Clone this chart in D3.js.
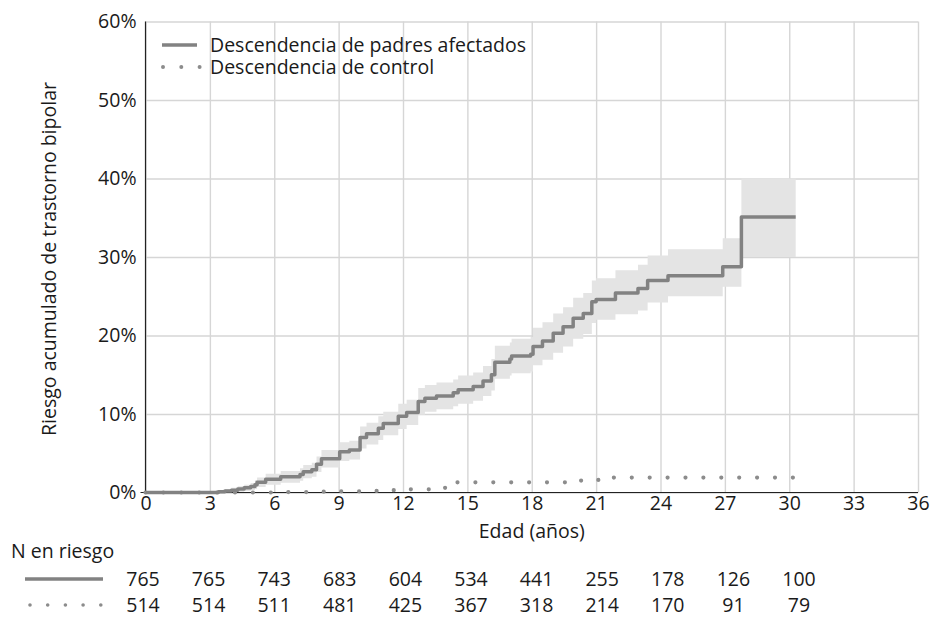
<!DOCTYPE html>
<html>
<head>
<meta charset="utf-8">
<script src="https://cdn.jsdelivr.net/npm/d3@7"></script>
<style>
  html, body { margin: 0; padding: 0; background: #fff; }
  svg { display: block; font-family: "Open Sans", "DejaVu Sans", sans-serif; }
  text { fill: #1a1a1a; }
</style>
</head>
<body>
<svg id="chart" width="933" height="617"></svg>
<script>
// Cumulative risk (%) for offspring of affected parents: step times (years) and estimates
const affectedAge = [0, 3.4, 3.7, 4.0, 4.3, 4.6, 4.9, 5.1, 5.2, 5.6, 6.3, 7.2, 7.35, 7.75, 7.97, 8.2, 9.05, 9.5,
  10.0, 10.3, 10.85, 11.08, 11.78, 12.17, 12.71, 13.02, 13.56, 14.34, 14.57, 15.27, 15.73, 16.12, 16.28,
  16.98, 17.06, 17.95, 18.06, 18.5, 19.0, 19.46, 19.93, 20.4, 20.8, 21.0, 21.9, 22.95, 23.4, 24.35, 26.9, 27.77, 30.3];
const affectedRisk = [0, 0.1, 0.2, 0.3, 0.45, 0.6, 0.75, 1.0, 1.3, 1.7, 2.0, 2.3, 2.65, 2.9, 3.6, 4.3, 5.2, 5.4,
  7.0, 7.5, 8.2, 8.8, 9.7, 10.2, 11.6, 12.0, 12.3, 12.7, 13.1, 13.5, 14.2, 15.0, 16.6,
  17.0, 17.4, 17.6, 18.6, 19.3, 20.3, 21.1, 22.2, 22.8, 24.3, 24.6, 25.4, 26.0, 27.0, 27.6, 28.75, 35.1, 35.1];
// 95% confidence band for the same steps
const affectedLow = [0, 0, 0, 0.05, 0.1, 0.2, 0.3, 0.45, 0.7, 1.0, 1.25, 1.5, 1.8, 2.0, 2.6, 3.2, 4.0, 4.2,
  5.6, 6.1, 6.7, 7.3, 8.1, 8.6, 9.9, 10.3, 10.6, 11.0, 11.3, 11.7, 12.3, 13.0, 14.5,
  14.9, 15.2, 15.4, 16.2, 16.9, 17.8, 18.6, 19.6, 20.2, 21.6, 22.0, 22.7, 23.2, 24.2, 25.0, 26.2, 30.0, 30.0];
const affectedHigh = [0, 0.3, 0.45, 0.6, 0.8, 1.0, 1.2, 1.55, 1.9, 2.4, 2.75, 3.1, 3.5, 3.8, 4.6, 5.4, 6.4, 6.6,
  8.4, 8.9, 9.7, 10.3, 11.3, 11.8, 13.3, 13.7, 14.0, 14.4, 14.9, 15.3, 16.1, 17.0, 18.7,
  19.1, 19.6, 19.8, 21.0, 21.7, 22.8, 23.6, 24.8, 25.4, 27.0, 27.3, 28.3, 29.0, 30.2, 31.0, 32.4, 40.0, 40.0];

// Cumulative risk (%) for control offspring
const controlAge  = [0, 6, 8, 9, 10, 11, 12, 13.7, 14.5, 20.3, 21.2, 30.3];
const controlRisk = [0, 0.05, 0.1, 0.15, 0.2, 0.3, 0.4, 0.6, 1.3, 1.6, 1.9, 1.9];

// Axis ticks
const xTicks = [0, 3, 6, 9, 12, 15, 18, 21, 24, 27, 30, 33, 36];
const yTicks = [0, 0.1, 0.2, 0.3, 0.4, 0.5, 0.6];

// Number at risk table
const riskTableAges = [0, 3, 6, 9, 12, 15, 18, 21, 24, 27, 30];
const atRiskAffected = [765, 765, 743, 683, 604, 534, 441, 255, 178, 126, 100];
const atRiskControl  = [514, 514, 511, 481, 425, 367, 318, 214, 170, 91, 79];

const seriesNames = ["Descendencia de padres afectados", "Descendencia de control"];

const svg = d3.select("#chart");
const FONT = 19.5;
const LINE = "#828282";
const DOT = "#8c8c8c";

const x = d3.scaleLinear().domain([0, 36]).range([145.5, 918]);
const y = d3.scaleLinear().domain([0, 0.6]).range([492.5, 21.5]);

const affected = affectedAge.map((t, i) => ({
  t, v: affectedRisk[i] / 100, lo: affectedLow[i] / 100, hi: affectedHigh[i] / 100
}));
const control = controlAge.map((t, i) => ({ t, v: controlRisk[i] / 100 }));

// Gridlines
svg.append("g")
  .attr("transform", `translate(0,${y(0)})`)
  .call(d3.axisBottom(x).tickValues(xTicks).tickSize(-(y(0) - y(0.6))).tickFormat(""))
  .call(g => g.select(".domain").remove())
  .call(g => g.selectAll("line").attr("stroke", "#d6d6d6").attr("stroke-width", 1.4));
svg.append("g")
  .attr("transform", `translate(${x(0)},0)`)
  .call(d3.axisLeft(y).tickValues(yTicks).tickSize(-(x(36) - x(0))).tickFormat(""))
  .call(g => g.select(".domain").remove())
  .call(g => g.selectAll("line").attr("stroke", "#d6d6d6").attr("stroke-width", 1.4));

// Confidence band
svg.append("path")
  .datum(affected)
  .attr("fill", "#e4e4e4")
  .attr("d", d3.area().x(d => x(d.t)).y0(d => y(d.lo)).y1(d => y(d.hi)).curve(d3.curveStepAfter));

// Axis lines
svg.append("line").attr("x1", x(0) - 5).attr("x2", x(36)).attr("y1", y(0)).attr("y2", y(0))
  .attr("stroke", "#222").attr("stroke-width", 1.2);
svg.append("line").attr("x1", x(0)).attr("x2", x(0)).attr("y1", y(0)).attr("y2", y(0.6))
  .attr("stroke", "#222").attr("stroke-width", 1.2);

// Control series (dotted)
svg.append("path")
  .datum(control)
  .attr("fill", "none")
  .attr("stroke", DOT)
  .attr("stroke-width", 4.2)
  .attr("stroke-linecap", "round")
  .attr("stroke-dasharray", "0,17.9")
  .attr("d", d3.line().x(d => x(d.t)).y(d => y(d.v)).curve(d3.curveStepAfter));

// Affected series
svg.append("path")
  .datum(affected)
  .attr("fill", "none")
  .attr("stroke", LINE)
  .attr("stroke-width", 3.5)
  .attr("stroke-linejoin", "round")
  .attr("d", d3.line().x(d => x(d.t)).y(d => y(d.v)).curve(d3.curveStepAfter));

// Tick labels
svg.append("g")
  .attr("transform", `translate(0,${y(0)})`)
  .call(d3.axisBottom(x).tickValues(xTicks).tickSize(0).tickPadding(4))
  .call(g => g.select(".domain").remove())
  .call(g => g.selectAll("text").attr("font-size", FONT).attr("font-family", "Open Sans").attr("fill", "#1a1a1a"));
svg.append("g")
  .attr("transform", `translate(${x(0)},0)`)
  .call(d3.axisLeft(y).tickValues(yTicks).tickSize(0).tickPadding(9).tickFormat(d3.format(".0%")))
  .call(g => g.select(".domain").remove())
  .call(g => g.selectAll("text").attr("font-size", FONT).attr("font-family", "Open Sans").attr("fill", "#1a1a1a"));

// Axis titles
svg.append("text")
  .attr("x", (x(0) + x(36)) / 2).attr("y", 538)
  .attr("text-anchor", "middle").attr("font-size", FONT)
  .text("Edad (años)");
svg.append("text")
  .attr("transform", `translate(56,${(y(0) + y(0.6)) / 2 + 2}) rotate(-90)`)
  .attr("text-anchor", "middle").attr("font-size", FONT)
  .text("Riesgo acumulado de trastorno bipolar");

// Legend
const legend = svg.append("g");
legend.append("line").attr("x1", 162).attr("x2", 197).attr("y1", 45).attr("y2", 45)
  .attr("stroke", LINE).attr("stroke-width", 3.5);
legend.append("line").attr("x1", 163).attr("x2", 201).attr("y1", 67).attr("y2", 67)
  .attr("stroke", DOT).attr("stroke-width", 4).attr("stroke-linecap", "round").attr("stroke-dasharray", "0,18.3");
legend.append("text").attr("x", 210).attr("y", 45).attr("dy", "0.35em").attr("font-size", FONT).text(seriesNames[0]);
legend.append("text").attr("x", 210).attr("y", 67).attr("dy", "0.35em").attr("font-size", FONT).text(seriesNames[1]);

// Number at risk table
svg.append("text").attr("x", 11).attr("y", 551).attr("dy", "0.35em").attr("font-size", FONT).text("N en riesgo");
const col = d3.scalePoint().domain(riskTableAges).range([143, 799]);
const rows = [
  { y: 579, values: atRiskAffected, solid: true },
  { y: 605, values: atRiskControl, solid: false }
];
rows.forEach(r => {
  const s = svg.append("line").attr("x1", 25).attr("x2", 103).attr("y1", r.y).attr("y2", r.y);
  if (r.solid) {
    s.attr("stroke", LINE).attr("stroke-width", 3.5);
  } else {
    s.attr("x1", 30).attr("x2", 101).attr("stroke", DOT).attr("stroke-width", 3.6)
      .attr("stroke-linecap", "round").attr("stroke-dasharray", "0,17.7");
  }
  svg.append("g").selectAll("text")
    .data(r.values.map((v, i) => ({ v, t: riskTableAges[i] })))
    .join("text")
    .attr("x", d => col(d.t))
    .attr("y", r.y)
    .attr("dy", "0.35em")
    .attr("text-anchor", "middle")
    .attr("font-size", FONT)
    .text(d => d.v);
});
</script>
</body>
</html>
